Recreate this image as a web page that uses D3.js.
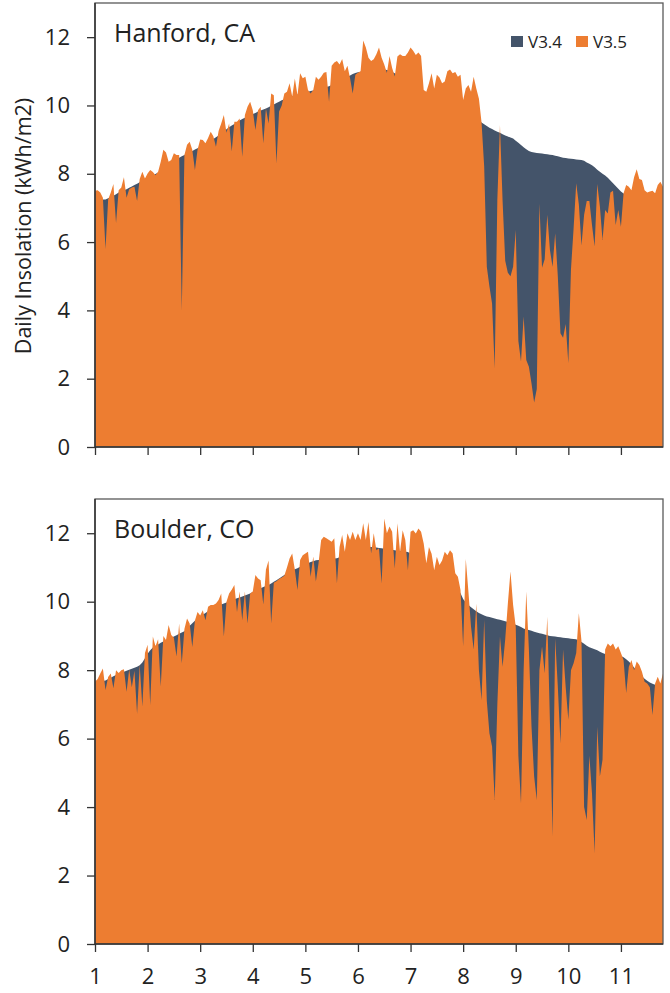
<!DOCTYPE html>
<html>
<head>
<meta charset="utf-8">
<script src="https://cdn.jsdelivr.net/npm/d3@7"></script>
<style>
  html, body { margin: 0; padding: 0; background: #fff; }
  svg { display: block; font-family: "Open Sans", "Noto Sans", sans-serif; }
</style>
</head>
<body>
<svg id="chart" width="670" height="993"></svg>
<script>
// ---- data (daily insolation, kWh/m2), sampled every 0.05 month starting at month 1.00 ----
const startMonth = 1;
const monthStep = 0.05;

const hanfordV35 = [
  7.50, 7.52, 7.45, 7.30, 5.80, 7.25, 7.45, 7.70, 6.56, 7.52, 7.60, 7.90, 7.30, 7.55, 7.60, 7.62, 7.20, 7.85, 8.06, 7.86,
  8.01, 8.11, 8.05, 7.96, 8.06, 8.35, 8.70, 8.62, 8.35, 8.40, 8.60, 8.55, 8.55, 4.00, 8.55, 8.85, 8.94, 8.70, 8.11, 8.70,
  9.00, 8.99, 8.89, 9.05, 9.23, 9.10, 8.79, 9.25, 9.47, 9.72, 9.20, 9.47, 8.65, 9.52, 9.52, 9.62, 8.50, 9.72, 9.96, 10.11,
  9.86, 9.28, 9.86, 9.96, 8.89, 9.91, 9.47, 10.35, 10.30, 8.30, 9.82, 10.00, 10.35, 10.40, 10.65, 10.26, 10.79, 10.30, 10.94, 10.80,
  10.84, 10.45, 10.35, 10.45, 10.84, 10.75, 10.84, 10.96, 10.98, 10.11, 11.16, 11.26, 11.30, 11.20, 11.36, 11.00, 11.16, 10.80, 10.35, 10.90,
  10.96, 11.00, 11.90, 11.70, 11.40, 11.30, 11.35, 11.50, 11.70, 11.40, 11.20, 10.95, 11.45, 11.10, 10.85, 11.43, 11.50, 11.45, 11.45, 11.55,
  11.70, 11.60, 11.48, 11.55, 11.45, 10.45, 10.40, 10.65, 10.94, 10.50, 10.90, 10.82, 10.65, 10.70, 11.00, 11.05, 10.94, 10.98, 10.84, 10.90,
  10.16, 10.50, 10.60, 10.40, 10.84, 10.50, 10.20, 9.50, 8.21, 5.28, 4.70, 4.20, 2.30, 7.23, 9.43, 7.20, 5.45, 5.10, 5.00, 5.28,
  6.35, 3.10, 2.50, 3.82, 2.55, 2.35, 1.86, 1.30, 1.70, 7.13, 5.25, 5.50, 6.80, 5.77, 5.28, 6.26, 5.00, 3.33, 3.20, 3.60,
  2.45, 5.20, 6.40, 7.72, 7.10, 5.90, 6.80, 7.20, 7.20, 6.50, 5.87, 7.70, 7.04, 6.06, 6.94, 6.84, 7.45, 7.50, 6.50, 6.94,
  6.45, 7.43, 7.67, 7.62, 7.52, 7.90, 8.13, 7.85, 7.82, 7.52, 7.45, 7.48, 7.50, 7.43, 7.67, 7.77, 7.62
];

const hanfordV34 = [
  7.35, 7.30, 7.27, 7.25, 7.25, 7.28, 7.32, 7.36, 7.40, 7.45, 7.49, 7.52, 7.55, 7.59, 7.63, 7.67, 7.71, 7.75, 7.79, 7.83,
  7.87, 7.91, 7.95, 7.99, 8.04, 8.09, 8.14, 8.20, 8.26, 8.32, 8.38, 8.43, 8.47, 8.51, 8.55, 8.59, 8.63, 8.67, 8.71, 8.75,
  8.79, 8.84, 8.88, 8.92, 8.97, 9.02, 9.07, 9.12, 9.18, 9.24, 9.30, 9.36, 9.41, 9.46, 9.51, 9.56, 9.60, 9.64, 9.68, 9.72,
  9.75, 9.78, 9.82, 9.85, 9.88, 9.91, 9.95, 9.99, 10.03, 10.07, 10.11, 10.15, 10.18, 10.21, 10.24, 10.27, 10.30, 10.32, 10.34, 10.36,
  10.38, 10.40, 10.42, 10.44, 10.46, 10.48, 10.50, 10.52, 10.54, 10.56, 10.60, 10.64, 10.68, 10.72, 10.76, 10.80, 10.84, 10.88, 10.92, 10.95,
  10.97, 10.99, 11.00, 11.01, 11.02, 11.03, 11.03, 11.04, 11.04, 11.05, 11.05, 11.04, 11.02, 10.98, 10.94, 10.88, 10.84, 10.80, 10.76, 10.72,
  10.68, 10.64, 10.60, 10.55, 10.50, 10.42, 10.37, 10.34, 10.31, 10.28, 10.25, 10.23, 10.20, 10.17, 10.15, 10.12, 10.10, 10.07, 10.05, 10.02,
  9.98, 9.92, 9.86, 9.80, 9.72, 9.65, 9.58, 9.50, 9.45, 9.40, 9.35, 9.31, 9.27, 9.23, 9.20, 9.16, 9.12, 9.09, 9.06, 9.03,
  8.97, 8.91, 8.84, 8.78, 8.72, 8.67, 8.64, 8.62, 8.61, 8.60, 8.59, 8.58, 8.57, 8.56, 8.55, 8.53, 8.51, 8.49, 8.47, 8.46,
  8.45, 8.44, 8.43, 8.42, 8.41, 8.40, 8.38, 8.33, 8.29, 8.25, 8.19, 8.12, 8.06, 8.00, 7.95, 7.88, 7.80, 7.72, 7.64, 7.56,
  7.48, 7.42, 7.39, 7.37, 7.36, 7.35, 7.35, 7.35, 7.34, 7.34, 7.34, 7.35, 7.35, 7.36, 7.37, 7.38, 7.40
];

const boulderV35 = [
  7.66, 7.74, 7.90, 8.05, 7.42, 7.80, 7.90, 7.47, 8.00, 7.92, 8.00, 8.03, 7.37, 8.02, 7.50, 7.98, 6.73, 8.15, 6.94, 8.50,
  8.74, 6.98, 8.98, 8.70, 8.90, 7.52, 9.00, 8.88, 9.32, 9.03, 8.95, 8.40, 9.36, 8.20, 9.20, 9.51, 9.36, 8.68, 9.45, 9.70,
  9.60, 9.75, 9.46, 9.85, 9.90, 9.90, 9.95, 10.05, 10.24, 8.98, 10.00, 10.24, 10.35, 10.49, 9.70, 10.30, 9.46, 10.30, 9.36, 10.24,
  10.30, 10.78, 10.68, 10.63, 9.92, 10.93, 11.20, 9.36, 10.55, 10.60, 10.66, 10.71, 10.76, 11.00, 11.26, 11.41, 10.93, 10.34, 11.22, 11.36,
  11.41, 11.46, 10.73, 11.32, 10.59, 11.12, 11.80, 11.90, 11.85, 11.80, 11.75, 11.85, 10.54, 11.60, 11.95, 11.46, 12.00, 11.80, 12.04, 11.80,
  12.00, 11.80, 12.29, 11.80, 12.33, 11.41, 12.00, 11.50, 11.56, 10.53, 12.43, 12.00, 12.20, 12.04, 10.97, 12.29, 11.45, 12.09, 11.80, 10.92,
  12.04, 12.09, 11.99, 12.14, 12.04, 11.70, 11.12, 11.60, 11.40, 10.92, 11.31, 11.07, 11.20, 11.46, 11.36, 11.50, 11.41, 10.83, 10.73, 10.34,
  8.70, 11.25, 10.30, 9.27, 8.60, 9.95, 8.00, 7.13, 9.47, 7.10, 6.16, 5.77, 4.21, 7.00, 8.98, 8.10, 8.90, 9.95, 10.88, 9.90,
  9.27, 5.50, 4.11, 8.00, 10.30, 8.60, 6.35, 4.89, 4.21, 8.00, 8.69, 7.91, 9.56, 6.50, 3.14, 8.93, 7.52, 5.86, 8.60, 7.50,
  6.55, 8.00, 8.20, 8.50, 9.66, 8.85, 4.00, 3.62, 5.50, 4.40, 2.65, 6.35, 4.89, 5.38, 8.60, 8.78, 8.70, 8.78, 8.60, 8.70,
  8.50, 8.30, 7.33, 8.10, 8.30, 8.00, 8.25, 8.15, 7.95, 7.66, 7.61, 7.50, 6.69, 7.61, 7.81, 7.61, 7.90
];

const boulderV34 = [
  7.62, 7.64, 7.66, 7.68, 7.70, 7.74, 7.78, 7.82, 7.86, 7.89, 7.92, 7.95, 7.98, 8.01, 8.04, 8.07, 8.10, 8.14, 8.22, 8.35,
  8.48, 8.58, 8.66, 8.71, 8.75, 8.80, 8.84, 8.88, 8.92, 8.95, 8.98, 9.02, 9.06, 9.10, 9.14, 9.22, 9.30, 9.37, 9.44, 9.50,
  9.56, 9.62, 9.67, 9.72, 9.77, 9.81, 9.85, 9.89, 9.92, 9.95, 9.98, 10.01, 10.04, 10.07, 10.10, 10.12, 10.15, 10.18, 10.21, 10.24,
  10.28, 10.31, 10.35, 10.39, 10.43, 10.46, 10.49, 10.53, 10.58, 10.63, 10.68, 10.73, 10.78, 10.83, 10.87, 10.91, 10.95, 10.98, 11.02, 11.06,
  11.09, 11.12, 11.16, 11.18, 11.21, 11.22, 11.23, 11.24, 11.24, 11.25, 11.25, 11.26, 11.27, 11.30, 11.34, 11.38, 11.42, 11.46, 11.50, 11.53,
  11.56, 11.58, 11.59, 11.60, 11.60, 11.60, 11.59, 11.58, 11.57, 11.56, 11.55, 11.54, 11.53, 11.52, 11.50, 11.49, 11.48, 11.47, 11.46, 11.45,
  11.40, 11.35, 11.30, 11.22, 11.15, 11.10, 11.05, 11.00, 10.95, 10.88, 10.82, 10.78, 10.75, 10.70, 10.65, 10.60, 10.55, 10.45, 10.38, 10.25,
  10.08, 9.98, 9.90, 9.84, 9.78, 9.72, 9.67, 9.63, 9.60, 9.57, 9.55, 9.53, 9.51, 9.49, 9.47, 9.45, 9.43, 9.41, 9.39, 9.36,
  9.33, 9.30, 9.26, 9.22, 9.19, 9.17, 9.15, 9.12, 9.10, 9.08, 9.06, 9.04, 9.02, 9.00, 8.99, 8.98, 8.97, 8.96, 8.95, 8.94,
  8.93, 8.92, 8.91, 8.90, 8.86, 8.82, 8.77, 8.71, 8.67, 8.64, 8.61, 8.58, 8.54, 8.50, 8.47, 8.46, 8.45, 8.44, 8.43, 8.42,
  8.41, 8.38, 8.32, 8.25, 8.17, 8.08, 7.99, 7.90, 7.82, 7.75, 7.69, 7.64, 7.60, 7.57, 7.55, 7.53, 7.52
];

const yTickValues = [0, 2, 4, 6, 8, 10, 12];
const xTickValues = [1, 2, 3, 4, 5, 6, 7, 8, 9, 10, 11];
const seriesNames = ["V3.4", "V3.5"];
const seriesColors = ["#44546A", "#ED7D31"];
const panelTitles = ["Hanford, CA", "Boulder, CO"];
const yAxisTitle = "Daily Insolation (kWh/m2)";

// ---- layout ----
const svg = d3.select("#chart");
const left = 95, right = 663;
const panels = [
  { top: 3, bottom: 447, title: panelTitles[0], v34: hanfordV34, v35: hanfordV35, labels: false, legend: true },
  { top: 499, bottom: 944, title: panelTitles[1], v34: boulderV34, v35: boulderV35, labels: true, legend: false }
];

const x = d3.scaleLinear().domain([1, 11.8]).range([left, right]);
const toPoints = arr => arr.map((v, i) => ({ m: startMonth + i * monthStep, v }));

panels.forEach((p, pi) => {
  const y = d3.scaleLinear().domain([0, 13]).range([p.bottom, p.top]);
  const g = svg.append("g");

  const clipId = "clip" + pi;
  svg.append("clipPath").attr("id", clipId)
    .append("rect").attr("x", left).attr("y", p.top).attr("width", right - left).attr("height", p.bottom - p.top);

  const area = d3.area()
    .x(d => x(d.m))
    .y0(y(0))
    .y1(d => y(d.v))
    .curve(d3.curveLinear);

  const plot = g.append("g").attr("clip-path", `url(#${clipId})`);
  plot.append("path").datum(toPoints(p.v34)).attr("d", area).attr("fill", seriesColors[0]);
  plot.append("path").datum(toPoints(p.v35)).attr("d", area).attr("fill", seriesColors[1]);

  // frame
  g.append("rect")
    .attr("x", left).attr("y", p.top)
    .attr("width", right - left).attr("height", p.bottom - p.top)
    .attr("fill", "none").attr("stroke", "#595959").attr("stroke-width", 1.3);

  // y axis
  const yAxis = d3.axisLeft(y).tickValues(yTickValues).tickSize(8).tickPadding(17).tickFormat(d3.format("d"));
  const ya = g.append("g").attr("transform", `translate(${left},0)`).call(yAxis);
  ya.select(".domain").attr("stroke", "#333").attr("stroke-width", 1.5).attr("d", `M-0,${p.bottom}V${p.top}`);
  ya.selectAll(".tick line").attr("stroke", "#333").attr("stroke-width", 1.3);
  ya.selectAll(".tick text").attr("font-size", 22).attr("fill", "#222").attr("font-family", "Open Sans");

  // x axis
  const xAxis = d3.axisBottom(x).tickValues(xTickValues).tickSize(8).tickPadding(16)
    .tickFormat(p.labels ? d3.format("d") : () => "");
  const xa = g.append("g").attr("transform", `translate(0,${p.bottom})`).call(xAxis);
  xa.select(".domain").attr("stroke", "#333").attr("stroke-width", 1.5).attr("d", `M${left},0H${right}`);
  xa.selectAll(".tick line").attr("stroke", "#333").attr("stroke-width", 1.3);
  xa.selectAll(".tick text").attr("font-size", 22).attr("fill", "#222").attr("font-family", "Open Sans");

  // panel title
  g.append("text").attr("x", 114).attr("y", p.top + 39)
    .attr("font-size", 25).attr("fill", "#222").text(p.title);

  if (p.legend) {
    const lg = g.append("g");
    const items = [{ x: 511 }, { x: 576 }];
    items.forEach((it, i) => {
      lg.append("rect").attr("x", it.x).attr("y", p.top + 33).attr("width", 12).attr("height", 11)
        .attr("fill", seriesColors[i]);
      lg.append("text").attr("x", it.x + 17).attr("y", p.top + 44.5)
        .attr("font-size", 17).attr("fill", "#222").text(seriesNames[i]);
    });
  }
});

// y axis title (centred on the upper panel)
svg.append("text")
  .attr("transform", `translate(31,${(panels[0].top + panels[0].bottom) / 2 + 1}) rotate(-90)`)
  .attr("text-anchor", "middle")
  .attr("font-size", 21.5).attr("fill", "#222")
  .text(yAxisTitle);
</script>
</body>
</html>
